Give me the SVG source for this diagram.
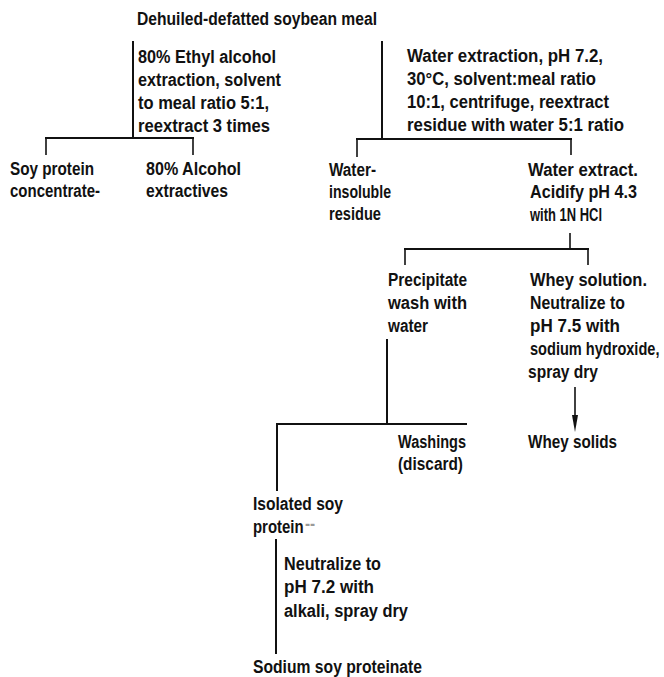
<svg xmlns="http://www.w3.org/2000/svg" width="664" height="677" viewBox="0 0 664 677">
  <style>
    text { font-family: "Liberation Sans", Arial, sans-serif; font-weight: bold; font-size: 18px; fill: #111; }
    .ln { stroke: #111; stroke-width: 2; fill: none; stroke-linecap: square; }
    .tk { stroke: #111; stroke-width: 1.6; fill: none; }
    .head { fill: #111; }
    .faint { fill: #999; }
  </style>
  <rect width="664" height="677" fill="#fff"/>

  <!-- connectors -->
  <g id="connectors">
    <!-- ethanol split -->
    <line class="ln" x1="133" y1="42" x2="133" y2="138"/>
    <line class="ln" x1="46" y1="138" x2="193" y2="138"/>
    <line class="tk" x1="46" y1="138" x2="46" y2="155"/>
    <line class="tk" x1="193" y1="138" x2="193" y2="155"/>
    <!-- water split -->
    <line class="ln" x1="382" y1="42" x2="382" y2="139"/>
    <line class="ln" x1="357" y1="139" x2="571" y2="139"/>
    <line class="tk" x1="357" y1="139" x2="357" y2="157"/>
    <line class="tk" x1="571" y1="139" x2="571" y2="155"/>
    <!-- acid split -->
    <line class="tk" x1="570" y1="233" x2="570" y2="249"/>
    <line class="ln" x1="405" y1="249" x2="588" y2="249"/>
    <line class="tk" x1="405" y1="249" x2="405" y2="265"/>
    <line class="tk" x1="588" y1="249" x2="588" y2="265"/>
    <!-- whey drying -->
    <line class="tk" x1="575" y1="387" x2="575" y2="416"/>
    <polygon class="head" points="572,415 578,415 575,432"/>
    <!-- precipitate washing -->
    <line class="ln" x1="387" y1="340" x2="387" y2="424"/>
    <line class="ln" x1="277" y1="424" x2="466" y2="424"/>
    <line class="ln" x1="277" y1="424" x2="277" y2="490"/>
    <!-- neutralization -->
    <line class="ln" x1="276" y1="540" x2="276" y2="653"/>
  </g>

  <g id="meal">
    <text x="137" y="25" textLength="240" lengthAdjust="spacingAndGlyphs">Dehuiled-defatted soybean meal</text>
  </g>

  <g id="ethanol-step">
    <text x="138" y="63" textLength="138" lengthAdjust="spacingAndGlyphs">80% Ethyl alcohol</text>
    <text x="138" y="86" textLength="143" lengthAdjust="spacingAndGlyphs">extraction, solvent</text>
    <text x="138" y="109" textLength="131" lengthAdjust="spacingAndGlyphs">to meal ratio 5:1,</text>
    <text x="138" y="132" textLength="132" lengthAdjust="spacingAndGlyphs">reextract 3 times</text>
  </g>

  <g id="spc">
    <text x="10" y="175" textLength="84" lengthAdjust="spacingAndGlyphs">Soy protein</text>
    <text x="10" y="197" textLength="90" lengthAdjust="spacingAndGlyphs">concentrate-</text>
  </g>

  <g id="alcohol-extractives">
    <text x="146" y="175" textLength="95" lengthAdjust="spacingAndGlyphs">80% Alcohol</text>
    <text x="146" y="197" textLength="82" lengthAdjust="spacingAndGlyphs">extractives</text>
  </g>

  <g id="water-step">
    <text x="407" y="62" textLength="196" lengthAdjust="spacingAndGlyphs">Water extraction, pH 7.2,</text>
    <text x="407" y="85" textLength="189" lengthAdjust="spacingAndGlyphs">30°C, solvent:meal ratio</text>
    <text x="407" y="108" textLength="202" lengthAdjust="spacingAndGlyphs">10:1, centrifuge, reextract</text>
    <text x="407" y="131" textLength="217" lengthAdjust="spacingAndGlyphs">residue with water 5:1 ratio</text>
  </g>

  <g id="insoluble-residue">
    <text x="329" y="176" textLength="47" lengthAdjust="spacingAndGlyphs">Water-</text>
    <text x="329" y="198" textLength="62" lengthAdjust="spacingAndGlyphs">insoluble</text>
    <text x="329" y="220" textLength="52" lengthAdjust="spacingAndGlyphs">residue</text>
  </g>

  <g id="water-extract">
    <text x="528" y="176" textLength="110" lengthAdjust="spacingAndGlyphs">Water extract.</text>
    <text x="530" y="198" textLength="107" lengthAdjust="spacingAndGlyphs">Acidify pH 4.3</text>
    <text x="530" y="221" textLength="72" lengthAdjust="spacingAndGlyphs">with 1N HCl</text>
  </g>

  <g id="precipitate">
    <text x="388" y="286" textLength="79" lengthAdjust="spacingAndGlyphs">Precipitate</text>
    <text x="388" y="309" textLength="79" lengthAdjust="spacingAndGlyphs">wash with</text>
    <text x="388" y="332" textLength="40" lengthAdjust="spacingAndGlyphs">water</text>
  </g>

  <g id="whey-solution">
    <text x="530" y="286" textLength="117" lengthAdjust="spacingAndGlyphs">Whey solution.</text>
    <text x="530" y="309" textLength="95" lengthAdjust="spacingAndGlyphs">Neutralize to</text>
    <text x="530" y="332" textLength="90" lengthAdjust="spacingAndGlyphs">pH 7.5 with</text>
    <text transform="translate(530,355) scale(0.81,1)">sodium hydroxide,</text>
    <text x="528" y="378" textLength="70" lengthAdjust="spacingAndGlyphs">spray dry</text>
  </g>

  <g id="whey-solids">
    <text x="528" y="448" textLength="89" lengthAdjust="spacingAndGlyphs">Whey solids</text>
  </g>

  <g id="washings">
    <text x="398" y="448" textLength="68" lengthAdjust="spacingAndGlyphs">Washings</text>
    <text x="398" y="470" textLength="65" lengthAdjust="spacingAndGlyphs">(discard)</text>
  </g>

  <g id="isolate">
    <text x="253" y="510" textLength="90" lengthAdjust="spacingAndGlyphs">Isolated soy</text>
    <text transform="translate(253,533) scale(0.83,1)">protein</text>
    <text class="faint" transform="translate(305,530) scale(0.85,1)">--</text>
  </g>

  <g id="neutralize-step">
    <text x="284" y="570" textLength="97" lengthAdjust="spacingAndGlyphs">Neutralize to</text>
    <text x="284" y="593" textLength="90" lengthAdjust="spacingAndGlyphs">pH 7.2 with</text>
    <text x="284" y="617" textLength="124" lengthAdjust="spacingAndGlyphs">alkali, spray dry</text>
  </g>

  <g id="proteinate">
    <text x="253" y="673" textLength="169" lengthAdjust="spacingAndGlyphs">Sodium soy proteinate</text>
  </g>
</svg>
